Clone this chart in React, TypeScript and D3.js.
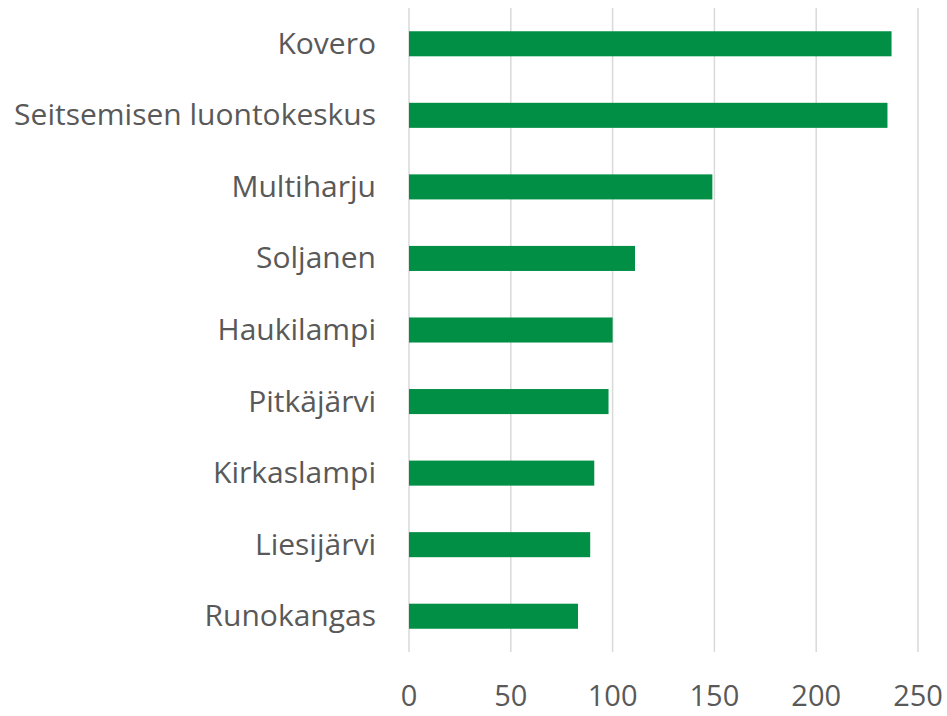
import React from "react";
import * as d3 from "d3";

const categories = ["Kovero", "Seitsemisen luontokeskus", "Multiharju", "Soljanen", "Haukilampi", "Pitkäjärvi", "Kirkaslampi", "Liesijärvi", "Runokangas"];
const values = [237, 235, 149, 111, 100, 98, 91, 89, 83];
const xTicks = [0, 50, 100, 150, 200, 250];

const W = 947;
const H = 716;
const left = 409;
const right = 918;
const top = 8;
const bottom = 652;
const font = "'Open Sans', 'Noto Sans', sans-serif";

export default function App() {
  const x = d3.scaleLinear().domain([0, 250]).range([left, right]);
  const y = d3.scaleBand<string>().domain(categories).range([top, bottom]).paddingInner(0.65).paddingOuter(0.325);
  return (
    <svg width={W} height={H} style={{ position: "absolute", left: 0, top: 0, background: "#fff" }}>
      {xTicks.map((t) => (
        <line key={"g" + t} x1={x(t)} x2={x(t)} y1={top} y2={bottom} stroke="#d9d9d9" strokeWidth={1.5} />
      ))}
      {categories.map((c, i) => (
        <rect key={c} x={x(0)} y={y(c)} width={x(values[i]) - x(0)} height={y.bandwidth()} fill="#008F45" />
      ))}
      {categories.map((c) => (
        <text key={"l" + c} x={376} y={(y(c) ?? 0) + y.bandwidth() / 2 + 10} textAnchor="end" fontFamily={font} fontSize={30} fill="#595959">
          {c}
        </text>
      ))}
      {xTicks.map((t) => (
        <text key={"t" + t} x={x(t)} y={706} textAnchor="middle" fontFamily={font} fontSize={29} fill="#595959">
          {t}
        </text>
      ))}
    </svg>
  );
}
